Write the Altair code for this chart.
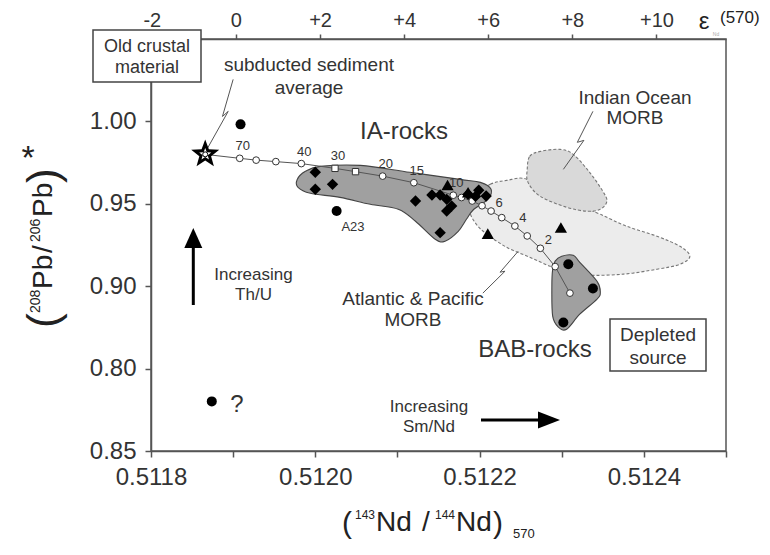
import altair as alt
import pandas as pd

FONT = "Liberation Sans"
INK = "#333333"
TITLE_INK = "#222222"
STAR = ("M0,-1L0.247,-0.34L0.951,-0.309L0.399,0.13L0.588,0.809L0,0.42"
        "L-0.588,0.809L-0.399,0.13L-0.951,-0.309L-0.247,-0.34Z")

# ---------------- data ----------------
# subducted sediment average (star, mixing end-member)
star_nd = [0.511866]
star_pb = [0.9800]

# mixing curve points (open symbols)
curve_nd = [0.511908, 0.511928, 0.511952, 0.511983, 0.512024, 0.512049, 0.512082,
            0.512120, 0.512168, 0.512178, 0.512191, 0.512203, 0.512214, 0.512227,
            0.512243, 0.512258, 0.512274, 0.512292, 0.512310]
curve_pb = [0.9776, 0.9765, 0.9756, 0.9744, 0.9715, 0.9695, 0.9668,
            0.9628, 0.9552, 0.9538, 0.9517, 0.9488, 0.9456, 0.9416,
            0.9365, 0.9305, 0.9230, 0.9119, 0.8958]
curve_shape = ["circle", "circle", "circle", "circle", "square", "square", "circle",
               "circle", "circle", "circle", "circle", "circle", "circle", "circle",
               "circle", "circle", "circle", "circle", "circle"]
curve_label_above = ["70", "", "", "40", "30", "", "20", "15", "10", "", "", "", "",
                     "", "", "", "", "", ""]
curve_label_side = ["", "", "", "", "", "", "", "", "", "", "", "", "6", "", "4",
                    "", "2", "", ""]

# IA-rocks (diamonds)
dia_nd = [0.512000, 0.512021, 0.512000, 0.512122, 0.512142, 0.512152, 0.512160,
          0.512166, 0.512160, 0.512152, 0.512186, 0.512199, 0.512208, 0.512195]
dia_pb = [0.9691, 0.9618, 0.9588, 0.9517, 0.9553, 0.9553, 0.9527,
          0.9487, 0.9456, 0.9325, 0.9558, 0.9582, 0.9547, 0.9545]

# triangles
tri_nd = [0.512161, 0.512186, 0.512210, 0.512299]
tri_pb = [0.9614, 0.9570, 0.9319, 0.9356]

# filled circles
circ_nd = [0.511909, 0.512026, 0.511874, 0.512308, 0.512338, 0.512302]
circ_pb = [0.9982, 0.9456, 0.8301, 0.9133, 0.8986, 0.8780]

# fields
ia_nd = [0.511978, 0.511988, 0.512006, 0.512055, 0.512115, 0.512176, 0.512201,
         0.512214, 0.512210, 0.512193, 0.512184, 0.512174, 0.512158, 0.512146,
         0.512122, 0.512101, 0.512067, 0.512030, 0.511994, 0.511979]
ia_pb = [0.9648, 0.9697, 0.9727, 0.9733, 0.9691, 0.9648, 0.9630,
         0.9588, 0.9527, 0.9467, 0.9406, 0.9333, 0.9273, 0.9285,
         0.9394, 0.9467, 0.9497, 0.9539, 0.9564, 0.9600]

bab_nd = [0.512292, 0.512300, 0.512314, 0.512322, 0.512343, 0.512347, 0.512343,
          0.512322, 0.512306, 0.512296, 0.512289, 0.512288, 0.512289]
bab_pb = [0.9152, 0.9182, 0.9188, 0.9145, 0.9030, 0.8964, 0.8921,
          0.8830, 0.8739, 0.8752, 0.8818, 0.9000, 0.9103]

atl_nd = [0.512192, 0.512213, 0.512233, 0.512258, 0.512292, 0.512322, 0.512347,
          0.512379, 0.512416, 0.512444, 0.512456, 0.512444, 0.512416, 0.512375,
          0.512331, 0.512306, 0.512286, 0.512261, 0.512233, 0.512209, 0.512196,
          0.512188]
atl_pb = [0.9539, 0.9618, 0.9642, 0.9648, 0.9527, 0.9485, 0.9436,
          0.9364, 0.9303, 0.9242, 0.9182, 0.9133, 0.9103, 0.9073,
          0.9067, 0.9091, 0.9121, 0.9176, 0.9236, 0.9315, 0.9376,
          0.9455]

ind_nd = [0.512258, 0.512261, 0.512274, 0.512298, 0.512314, 0.512334, 0.512350,
          0.512355, 0.512347, 0.512331, 0.512306, 0.512274, 0.512259]
ind_pb = [0.9709, 0.9788, 0.9818, 0.9830, 0.9800, 0.9691, 0.9576,
          0.9515, 0.9467, 0.9455, 0.9479, 0.9545, 0.9630]

# zig-zag leader lines
lead_group = ["sed", "sed", "sed", "sed", "ind", "ind", "ind", "ind",
              "atl", "atl", "atl", "atl"]
lead_nd = [0.511900, 0.511887, 0.511894, 0.511868,
           0.512338, 0.512319, 0.512327, 0.512302,
           0.512247, 0.512225, 0.512231, 0.512204]
lead_pb = [1.0255, 1.0030, 1.0061, 0.9830,
           1.0061, 0.9873, 0.9885, 0.9709,
           0.9212, 0.9085, 0.9091, 0.8958]

# axes ticks / labels
x_tick_values = [0.5118, 0.5119, 0.5120, 0.5121, 0.5122, 0.5123, 0.5124, 0.5125]
x_tick_labels = ["0.5118", "", "0.5120", "", "0.5122", "", "0.5124", ""]
y_tick_values = [0.80, 0.85, 0.90, 0.95, 1.00]
y_tick_labels = ["0.85", "0.80", "0.90", "0.95", "1.00"]
eps_tick_values = [-2, 0, 2, 4, 6, 8, 10]
eps_tick_labels = ["-2", "0", "+2", "+4", "+6", "+8", "+10"]
CHUR_570 = 0.5119034  # 143Nd/144Nd of CHUR at 570 Ma (epsilon = 0)
eps_tick_nd = [CHUR_570 * (1 + e / 1e4) for e in eps_tick_values]


def label_expr(values, labels, tol):
    expr = "''"
    for v, l in reversed(list(zip(values, labels))):
        expr = f"abs(datum.value - ({v})) < {tol} ? '{l}' : ({expr})"
    return expr


xs = alt.Scale(domain=[0.5118, 0.5125], nice=False, zero=False)
ys = alt.Scale(domain=[0.80, 1.05], nice=False, zero=False)

x_axis = alt.Axis(values=x_tick_values,
                  labelExpr=label_expr(x_tick_values, x_tick_labels, 1e-7),
                  tickSize=6, labelFontSize=24, labelPadding=8, title=None,
                  grid=False, labelFlush=False, labelOverlap=False, orient="bottom")
top_axis = alt.Axis(orient="top", values=eps_tick_nd,
                    labelExpr=label_expr(eps_tick_nd, eps_tick_labels, 1e-7),
                    tickSize=5, labelFontSize=20, labelPadding=4, title=None,
                    grid=False, labelFlush=False, labelOverlap=False)
y_axis = alt.Axis(values=y_tick_values,
                  labelExpr=label_expr(y_tick_values, y_tick_labels, 1e-4),
                  tickSize=6, labelFontSize=24, labelPadding=9, title=None,
                  grid=False, labelOverlap=False)

X = alt.X("nd:Q", scale=xs, axis=None)
Y = alt.Y("pb:Q", scale=ys, axis=y_axis)


def frame(nd, pb, **extra):
    d = {"nd": nd, "pb": pb, "i": list(range(len(nd)))}
    d.update(extra)
    return pd.DataFrame(d)


def poly(nd, pb, fill, stroke, dash=None, xenc=X):
    kw = dict(interpolate="cardinal-closed", fill=fill, stroke=stroke, strokeWidth=1.1)
    if dash:
        kw["strokeDash"] = dash
    return alt.Chart(frame(nd, pb)).mark_line(**kw).encode(x=xenc, y=Y, order="i:Q")


layers = []
layers.append(poly(atl_nd, atl_pb, "#ececec", "#777777", [3, 2],
                   xenc=alt.X("nd:Q", scale=xs, axis=x_axis)))
layers.append(poly(ind_nd, ind_pb, "#d9d9d9", "#777777", [3, 2],
                   xenc=alt.X("nd:Q", scale=xs, axis=top_axis)))
layers.append(poly(ia_nd, ia_pb, "#a0a0a0", "#444444"))
layers.append(poly(bab_nd, bab_pb, "#a0a0a0", "#444444"))

# leader lines
lead_df = pd.DataFrame({"nd": lead_nd, "pb": lead_pb, "g": lead_group,
                        "i": list(range(len(lead_nd)))})
layers.append(alt.Chart(lead_df).mark_line(color="#555555", strokeWidth=1).encode(
    x=X, y=Y, detail="g:N", order="i:Q"))

# mixing curve
line_df = frame(star_nd + curve_nd, star_pb + curve_pb)
layers.append(alt.Chart(line_df).mark_line(color="#555555", strokeWidth=1).encode(
    x=X, y=Y, order="i:Q"))
curve_df = frame(curve_nd, curve_pb, shape=curve_shape,
                 la=curve_label_above, ls=curve_label_side)
layers.append(alt.Chart(curve_df).transform_filter("datum.shape == 'circle'").mark_point(
    shape="circle", filled=True, fill="white", stroke="#333333", strokeWidth=1,
    size=45, opacity=1).encode(x=X, y=Y))
layers.append(alt.Chart(curve_df).transform_filter("datum.shape == 'square'").mark_point(
    shape="square", filled=True, fill="white", stroke="#333333", strokeWidth=1,
    size=40, opacity=1).encode(x=X, y=Y))
layers.append(alt.Chart(curve_df).mark_text(
    font=FONT, fontSize=13, color=INK, dx=3, dy=-12).encode(x=X, y=Y, text="la:N"))
layers.append(alt.Chart(curve_df).mark_text(
    font=FONT, fontSize=13, color=INK, dx=8, dy=-8).encode(x=X, y=Y, text="ls:N"))

# samples
layers.append(alt.Chart(frame(dia_nd, dia_pb)).mark_point(
    shape="diamond", filled=True, color="black", size=130, opacity=1).encode(x=X, y=Y))
layers.append(alt.Chart(frame(tri_nd, tri_pb)).mark_point(
    shape="triangle-up", filled=True, color="black", size=150, opacity=1).encode(x=X, y=Y))
layers.append(alt.Chart(frame(circ_nd, circ_pb)).mark_point(
    shape="circle", filled=True, color="black", size=100, opacity=1).encode(x=X, y=Y))
layers.append(alt.Chart(frame(star_nd, star_pb)).mark_point(
    shape=STAR, filled=True, color="black", size=870, opacity=1).encode(x=X, y=Y))
layers.append(alt.Chart(frame(star_nd, star_pb)).mark_point(
    shape=STAR, filled=True, color="white", size=160, opacity=1).encode(x=X, y=Y))
layers.append(alt.Chart(frame(star_nd, star_pb)).mark_point(
    shape="circle", filled=True, fill="white", stroke="black", strokeWidth=1,
    size=25, opacity=1).encode(x=X, y=Y))

ONE = pd.DataFrame({"k": [0]})


def txt(text, x, y, size, align="center", baseline="middle", **kw):
    mk = dict(text=text, fontSize=size, font=FONT, align=align, baseline=baseline)
    mk.setdefault("color", INK)
    mk.update(kw)
    return alt.Chart(ONE).mark_text(**mk).encode(x=alt.value(x), y=alt.value(y))


def box(x1, x2, y1, y2):
    return alt.Chart(ONE).mark_rect(fill="white", stroke="#444444", strokeWidth=1.5).encode(
        x=alt.value(x1), x2=alt.value(x2), y=alt.value(y1), y2=alt.value(y2))


# annotations (multi-line text: y is the first line's centre)
layers.append(txt("IA-rocks", 253, 93, 24))
layers.append(txt("BAB-rocks", 384, 311, 24))
layers.append(txt(["Indian Ocean", "MORB"], 484, 59, 19, lineHeight=20))
layers.append(txt(["Atlantic & Pacific", "MORB"], 262, 260, 19, lineHeight=21))
layers.append(txt(["subducted sediment", "average"], 158, 26, 19, lineHeight=23))
layers.append(box(-58, 50, -9, 43))
layers.append(txt(["Old crustal", "material"], -4, 8, 18, lineHeight=21))
layers.append(box(459, 555, 280, 332))
layers.append(txt(["Depleted", "source"], 507, 296, 19, lineHeight=23))
layers.append(txt(["Increasing", "Th/U"], 102.5, 236, 17, lineHeight=20))
layers.append(txt(["Increasing", "Sm/Nd"], 278, 368, 17, lineHeight=20))
layers.append(txt("A23", 202, 188, 13))
layers.append(txt("?", 86, 366, 24))

# arrows
layers.append(alt.Chart(ONE).mark_rule(color="black", strokeWidth=3).encode(
    x=alt.value(42.3), y=alt.value(266), y2=alt.value(205)))
layers.append(alt.Chart(ONE).mark_point(
    shape="M0,-1L0.9,1L-0.9,1Z", filled=True, color="black", size=400, opacity=1).encode(
    x=alt.value(42.3), y=alt.value(199)))
layers.append(alt.Chart(ONE).mark_rule(color="black", strokeWidth=3).encode(
    x=alt.value(330), x2=alt.value(392), y=alt.value(381)))
layers.append(alt.Chart(ONE).mark_point(
    shape="M1,0L-1,-0.77L-1,0.77Z", filled=True, color="black", size=484, opacity=1).encode(
    x=alt.value(398), y=alt.value(381)))


# y title: ( 208Pb / 206Pb )*  -- rotated pieces (x offsets relative to the plot)
def ytxt(text, y, x, size):
    return txt(text, x, y, size, align="left", baseline="alphabetic", angle=270,
               color=TITLE_INK)


layers.append(ytxt("(", 289, -93, 44))
layers.append(ytxt("208", 274, -111, 14))
layers.append(ytxt("Pb", 250, -99, 28))
layers.append(ytxt("/", 214, -99, 28))
layers.append(ytxt("206", 203, -111, 14))
layers.append(ytxt("Pb", 178, -99, 28))
layers.append(ytxt(")", 144, -93, 44))
layers.append(txt("*", -123, 120, 34, color=TITLE_INK))


# x title: ( 143Nd / 144Nd ) 570
def xtxt(text, x, y, size):
    return txt(text, x, y, size, align="left", baseline="alphabetic", color=TITLE_INK)


layers.append(xtxt("(", 191, 494, 30))
layers.append(xtxt("143", 204, 480, 12))
layers.append(xtxt("Nd", 225, 492, 28))
layers.append(xtxt("/", 271, 492, 28))
layers.append(xtxt("144", 284, 480, 12))
layers.append(xtxt("Nd", 305, 492, 28))
layers.append(xtxt(")", 342, 494, 30))
layers.append(xtxt("570", 362, 499, 13))

# top axis title
layers.append(txt("ε", 553, -17, 24, color=TITLE_INK))
layers.append(txt("Nd", 565, -5, 5, color="#aaaaaa"))
layers.append(txt("(570)", 569, -21, 17, align="left", color=TITLE_INK))

chart = alt.layer(*layers).resolve_axis(x="independent").properties(
    width=575, height=412,
    padding={"left": 143, "top": 31, "right": 36, "bottom": 92},
    autosize=alt.AutoSizeParams(type="none"),
    background="white",
).configure_view(stroke="#555555", strokeWidth=1.5).configure_axis(
    domainColor="#555555", tickColor="#555555", domainWidth=1.5, tickWidth=1.5,
    labelColor=INK, labelFont=FONT)

chart.save("out.html", embed_options={"renderer": "svg", "actions": False})
